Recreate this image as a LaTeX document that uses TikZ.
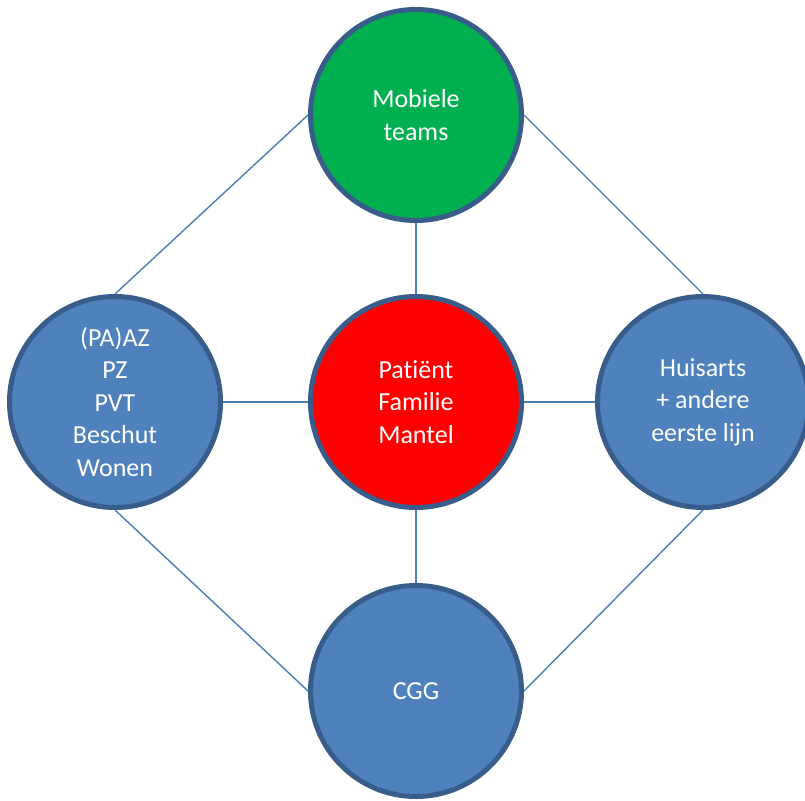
\documentclass[tikz,border=0pt]{standalone}
\usepackage{fontspec}
\setmainfont{Carlito}[Ligatures={NoCommon}]
\usetikzlibrary{backgrounds}
\definecolor{hubblue}{HTML}{4F81BD}
\definecolor{hubedge}{HTML}{385D8A}
\definecolor{linkblue}{HTML}{4A7EBB}
\definecolor{hubgreen}{HTML}{00B050}
\definecolor{hubred}{HTML}{FF0000}
\begin{document}
\begin{tikzpicture}[x=1pt,y=-1pt,
  hub/.style={circle,draw=hubedge,line width=5pt,minimum size=211pt,inner sep=0pt,
    fill=hubblue,text=white,align=center,
    font=\fontsize{26pt}{32.5pt}\selectfont},
  link/.style={draw=linkblue,line width=1.4pt}]
\useasboundingbox (0,0) rectangle (805,800);
\node[hub,fill=hubgreen] (top) at (416,115) {Mobiele\\teams};
\node[hub,fill=hubred] (mid) at (416,402) {Patiënt\\Familie\\Mantel};
\node[hub] (left) at (115,402) {(PA)AZ\\PZ\\PVT\\Beschut\\Wonen};
\node[hub] (right) at (703,402) {Huisarts\\+ andere\\eerste lijn};
\node[hub] (bottom) at (416,691) {CGG};
\begin{scope}[on background layer]
  \draw[link] (top.west) -- (left.north);
  \draw[link] (top.east) -- (right.north);
  \draw[link] (left.south) -- (bottom.west);
  \draw[link] (right.south) -- (bottom.east);
  \draw[link] (top.south) -- (mid.north);
  \draw[link] (mid.south) -- (bottom.north);
  \draw[link] (mid.west) -- (left.east);
  \draw[link] (mid.east) -- (right.west);
\end{scope}
\end{tikzpicture}
\end{document}
